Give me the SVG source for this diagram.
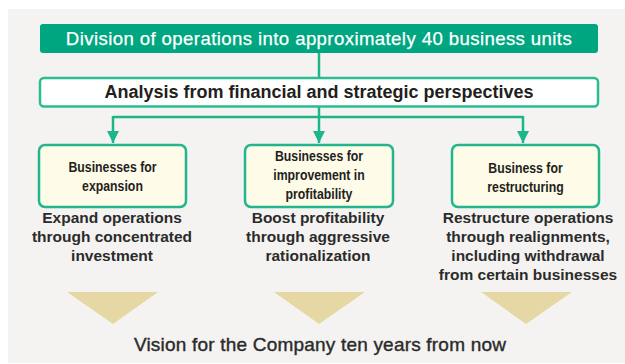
<svg xmlns="http://www.w3.org/2000/svg" width="625" height="364" viewBox="0 0 625 364">
<style>
.t{font-family:"Liberation Sans",Arial,sans-serif;text-anchor:middle;fill:#231f20}
.box{fill:#fefbe8;stroke:#22b68c;stroke-width:2.5}
.bt{font-family:"Liberation Sans",Arial,sans-serif;font-size:15px;font-weight:bold;text-anchor:middle;fill:#231f20}
.d{font-size:15.5px;font-weight:bold;fill:#2b2b2b}
.con{fill:none;stroke:#1fb58b;stroke-width:2.5}
.tri{fill:#e6d8a4}
</style>
<defs>
<marker id="ah" viewBox="0 0 10 10" refX="10" refY="5" markerWidth="5" markerHeight="5" markerUnits="strokeWidth" orient="auto">
<path d="M0,0 L10,5 L0,10 z" fill="#1fb58b"/>
</marker>
</defs>
<rect x="8" y="9" width="617" height="354" fill="#f4f3f1"/>
<g id="connectors">
<line class="con" x1="319" y1="53" x2="319" y2="78"/>
<line class="con" x1="319" y1="107" x2="319" y2="117"/>
<polyline class="con" points="113,117 523,117"/>
<line class="con" x1="113" y1="116" x2="113" y2="143" marker-end="url(#ah)"/>
<line class="con" x1="319" y1="117" x2="319" y2="143" marker-end="url(#ah)"/>
<line class="con" x1="523" y1="116" x2="523" y2="143" marker-end="url(#ah)"/>
</g>
<g id="division">
<rect x="40" y="24" width="558" height="29" rx="3" fill="#00a680"/>
<text class="t" x="319" y="45" font-size="18.6" letter-spacing="0.4" style="fill:#fff" stroke="#fff" stroke-width="0.25">Division of operations into approximately 40 business units</text>
</g>
<g id="analysis">
<rect x="40" y="78" width="558" height="28.5" rx="4" fill="#fff" stroke="#2bbd92" stroke-width="2.5"/>
<text class="t" x="319" y="98" font-size="18" font-weight="bold">Analysis from financial and strategic perspectives</text>
</g>
<g id="expansion">
<rect class="box" x="39" y="145" width="147" height="62" rx="6"/>
<g transform="translate(112.5,0) scale(0.82,1)">
<text class="bt" x="0" y="172">Businesses for</text>
<text class="bt" x="0" y="191">expansion</text>
</g>
</g>
<g id="improvement">
<rect class="box" x="245" y="145" width="148" height="62" rx="6"/>
<g transform="translate(319,0) scale(0.82,1)">
<text class="bt" x="0" y="161">Businesses for</text>
<text class="bt" x="0" y="180">improvement in</text>
<text class="bt" x="0" y="199">profitability</text>
</g>
</g>
<g id="restructuring">
<rect class="box" x="452" y="145" width="147" height="62" rx="6"/>
<g transform="translate(525.5,0) scale(0.82,1)">
<text class="bt" x="0" y="173">Business for</text>
<text class="bt" x="0" y="192">restructuring</text>
</g>
</g>
<g id="desc-expansion">
<text class="t d" x="112" y="223">Expand operations</text>
<text class="t d" x="112" y="242">through concentrated</text>
<text class="t d" x="112" y="261">investment</text>
</g>
<g id="desc-improvement">
<text class="t d" x="318" y="223">Boost profitability</text>
<text class="t d" x="318" y="242">through aggressive</text>
<text class="t d" x="318" y="261">rationalization</text>
</g>
<g id="desc-restructuring">
<text class="t d" x="528" y="223">Restructure operations</text>
<text class="t d" x="528" y="242">through realignments,</text>
<text class="t d" x="528" y="261">including withdrawal</text>
<text class="t d" x="528" y="280">from certain businesses</text>
</g>
<g id="arrows">
<polygon class="tri" points="67,292 158,292 113,324"/>
<polygon class="tri" points="274,292 365,292 319,324"/>
<polygon class="tri" points="481,292 572,292 526,324"/>
</g>
<g id="vision">
<text class="t" x="320" y="351" font-size="19" letter-spacing="0.2" style="fill:#2b2b2b" stroke="#2b2b2b" stroke-width="0.4">Vision for the Company ten years from now</text>
</g>
</svg>
